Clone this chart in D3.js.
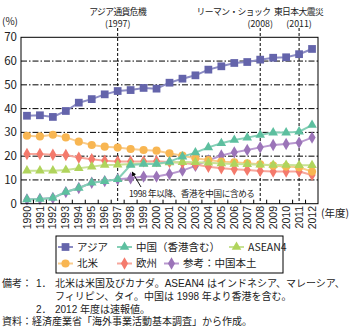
<!DOCTYPE html>
<html>
<head>
<meta charset="utf-8">
<script src="https://cdn.jsdelivr.net/npm/d3@7"></script>
<style>
  html, body { margin: 0; padding: 0; background: #fff; }
  svg { display: block; font-family: "Noto Sans CJK JP", "Noto Sans", sans-serif; }
  .tight { font-family: "Liberation Sans", "Noto Sans CJK JP", sans-serif; }
</style>
</head>
<body>
<svg id="chart" width="356" height="333"></svg>
<script>
// 年度
const years = d3.range(1990, 2013);
// 海外現地法人数に占める地域別の構成比（%）
const asia     = [37, 37.2, 36.5, 39, 42.5, 44, 46, 47.4, 47.8, 48.7, 48.4, 50.9, 52.6, 54, 56.4, 57.8, 59.2, 59.6, 60.6, 61.4, 61.6, 62.9, 65.1];
const chinaHK  = [1.8, 2.0, 2.4, 4.9, 6.6, 8.8, 9.5, 10.3, 16.3, 16.7, 16.7, 17.7, 19.8, 21.5, 23.7, 25.4, 26.8, 27.8, 28.9, 29.9, 29.9, 30.3, 33.1];
const asean4   = [13.9, 13.9, 13.9, 14.2, 14.9, 15.6, 16.3, 16.4, 16.7, 16.9, 16.8, 17.3, 17.5, 17.4, 17.2, 16.9, 16.7, 16.6, 16.4, 16.3, 16.3, 16.2, 16.2];
const northAm  = [28.6, 28.3, 29, 27.9, 26.1, 24.7, 24, 23.6, 23, 22.6, 22.3, 21.2, 20.2, 19.1, 18.4, 17.7, 17.4, 17, 16.6, 16, 15.6, 15.3, 13.5];
const europe   = [20.9, 20.9, 20.6, 20.5, 19.4, 18.7, 18.1, 17.8, 17.8, 17.8, 17.9, 17.5, 17.2, 16.5, 15.5, 14.9, 14.5, 14.2, 13.8, 13.5, 13.5, 13.5, 12.1];
const mainland = [1.8, 2.0, 2.4, 4.9, 6.6, 8.8, 9.5, 10.3, 10.7, 11.4, 11.4, 12.5, 13.9, 15.9, 18.2, 20.3, 21.6, 22.6, 23.7, 24.7, 25.1, 25.7, 27.8];

const yTicks = [0, 10, 20, 30, 40, 50, 60, 70];

// 出来事（年と見出し）
const eventYears  = [1997, 2008, 2011];
const eventLabels = ["アジア通貨危機", "リーマン・ショック", "東日本大震災"];

const seriesNames = ["アジア", "中国（香港含む）", "ASEAN4", "北米", "欧州", "参考：中国本土"];

const notes = [
  "北米は米国及びカナダ。ASEAN4 はインドネシア、マレーシア、",
  "フィリピン、タイ。中国は 1998 年より香港を含む。",
  "2012 年度は速報値。"
];
const source = "資料：経済産業省「海外事業活動基本調査」から作成。";

const series = [
  { name: seriesNames[5], values: mainland, color: "#9b74b8", line: "#b898cf", sym: d3.symbolDiamond, size: 44 },
  { name: seriesNames[4], values: europe,   color: "#f47a6c", line: "#f7a79c", sym: d3.symbolDiamond, size: 44 },
  { name: seriesNames[3], values: northAm,  color: "#f8b652", line: "#f9cc8c", sym: d3.symbolCircle,  size: 52 },
  { name: seriesNames[2], values: asean4,   color: "#b0d45c", line: "#c8e294", sym: d3.symbolTriangle, size: 40 },
  { name: seriesNames[1], values: chinaHK,  color: "#5dbf9f", line: "#86d0b7", sym: d3.symbolTriangle, size: 40 },
  { name: seriesNames[0], values: asia,     color: "#6464ab", line: "#8c8cc4", sym: d3.symbolSquare,   size: 60 }
];

const svg = d3.select("#chart");
const plot = { left: 21, right: 318, top: 37.3, bottom: 203.7 };

const x = d3.scalePoint().domain(years).range([plot.left, plot.right]).padding(0.46);
const y = d3.scaleLinear().domain([0, 70]).range([plot.bottom, plot.top]);
const step = x.step();

// 横の補助線（一点鎖線）
svg.append("g").selectAll("line")
  .data(yTicks.filter(t => t > 0 && t < 70))
  .join("line")
  .attr("x1", plot.left).attr("x2", plot.right)
  .attr("y1", d => y(d)).attr("y2", d => y(d))
  .attr("stroke", "#000").attr("stroke-width", 1)
  .attr("stroke-dasharray", "6,2,1.5,2");

// 出来事の縦線と見出し
const labelCenters = { 1997: x(1997), 2008: 233.5, 2011: 298.5 };
const ev = svg.append("g");
eventYears.forEach((yr, i) => {
  const ex = x(yr);
  ev.append("line")
    .attr("x1", ex).attr("x2", ex)
    .attr("y1", 28).attr("y2", plot.bottom)
    .attr("stroke", "#000").attr("stroke-width", 1)
    .attr("stroke-dasharray", "3,2");
  ev.append("text").attr("x", labelCenters[yr]).attr("y", 15)
    .attr("text-anchor", "middle").attr("font-size", 8.8)
    .attr("letter-spacing", -0.6).attr("fill", "#222")
    .text(eventLabels[i]);
  ev.append("text").attr("x", ex).attr("y", 27)
    .attr("text-anchor", "middle").attr("font-size", 8.8).attr("fill", "#222")
    .text("(" + yr + ")");
});

// 系列の線とマーカー
series.forEach(s => {
  const pts = years.map((yr, i) => [x(yr), y(s.values[i])]);
  svg.append("path")
    .attr("d", d3.line()(pts))
    .attr("fill", "none")
    .attr("stroke", s.line)
    .attr("stroke-width", 2);
  svg.append("g").selectAll("path")
    .data(pts)
    .join("path")
    .attr("transform", d => `translate(${d[0]},${d[1]})`)
    .attr("d", d3.symbol().type(s.sym).size(s.size))
    .attr("fill", s.color);
});

// 枠
svg.append("rect")
  .attr("x", plot.left).attr("y", plot.top)
  .attr("width", plot.right - plot.left).attr("height", plot.bottom - plot.top)
  .attr("fill", "none").attr("stroke", "#000").attr("stroke-width", 1);

// Y 軸目盛ラベル
svg.append("g").selectAll("text")
  .data(yTicks)
  .join("text")
  .attr("x", 17).attr("y", d => y(d))
  .attr("dy", "0.35em")
  .attr("text-anchor", "end")
  .attr("font-size", 11.5).attr("fill", "#222")
  .text(d => d);
svg.append("text").attr("x", 2).attr("y", 25)
  .attr("font-size", 10).attr("fill", "#222").text("(%)");

// X 軸の小目盛（区切り）
const bounds = years.slice(1).map(yr => x(yr) - step / 2);
svg.append("g").selectAll("line")
  .data(bounds)
  .join("line")
  .attr("x1", d => d).attr("x2", d => d)
  .attr("y1", plot.bottom).attr("y2", plot.bottom - 4)
  .attr("stroke", "#000").attr("stroke-width", 1);

// X 軸ラベル（回転）
svg.append("g").selectAll("text")
  .data(years)
  .join("text")
  .attr("class", "tight")
  .attr("transform", d => `translate(${x(d) + 3.6},206) rotate(-90)`)
  .attr("text-anchor", "end")
  .attr("font-size", 10.5).attr("fill", "#222")
  .text(d => d);
svg.append("text").attr("x", 321).attr("y", 217)
  .attr("font-size", 10.5).attr("fill", "#222").text("(年度)");

// 注記と矢印
svg.append("defs").append("marker")
  .attr("id", "arrowhead").attr("viewBox", "0 0 10 10")
  .attr("refX", 9).attr("refY", 5)
  .attr("markerWidth", 5).attr("markerHeight", 5)
  .attr("orient", "auto")
  .append("path").attr("d", "M0,0L10,5L0,10z").attr("fill", "#000");
svg.append("line")
  .attr("x1", 141).attr("y1", 187)
  .attr("x2", x(1998) + 1.5).attr("y2", y(chinaHK[8]) + 7)
  .attr("stroke", "#000").attr("stroke-width", 0.9)
  .attr("marker-end", "url(#arrowhead)");
svg.append("text").attr("x", 129).attr("y", 197)
  .attr("font-size", 8.6).attr("letter-spacing", -0.4).attr("fill", "#222")
  .text("1998 年以降、香港を中国に含める");

// 凡例
const lg = svg.append("g");
lg.append("rect").attr("x", 56).attr("y", 236).attr("width", 227).attr("height", 37)
  .attr("fill", "#fff").attr("stroke", "#000").attr("stroke-width", 1);
const legendPos = [
  { i: 5, x: 58, y: 247 }, { i: 4, x: 117, y: 247 }, { i: 3, x: 229, y: 247 },
  { i: 2, x: 58, y: 263.5 }, { i: 1, x: 117, y: 263.5 }, { i: 0, x: 164, y: 263.5 }
];
legendPos.forEach(p => {
  const s = series[p.i];
  lg.append("line").attr("x1", p.x).attr("x2", p.x + 15)
    .attr("y1", p.y).attr("y2", p.y)
    .attr("stroke", s.line).attr("stroke-width", 2);
  lg.append("path").attr("transform", `translate(${p.x + 7.5},${p.y})`)
    .attr("d", d3.symbol().type(s.sym).size(s.size)).attr("fill", s.color);
  lg.append("text").attr("x", p.x + 19).attr("y", p.y).attr("dy", "0.36em")
    .attr("font-size", 10.5).attr("fill", "#222").text(s.name);
});

// 備考・資料
const nt = svg.append("g").attr("class", "tight").attr("font-size", 10).attr("fill", "#222");
nt.append("text").attr("x", 2).attr("y", 287).text("備考：");
nt.append("text").attr("x", 36).attr("y", 287).text("1．");
nt.append("text").attr("x", 55).attr("y", 287).text(notes[0]);
nt.append("text").attr("x", 55).attr("y", 299.5).text(notes[1]);
nt.append("text").attr("x", 36).attr("y", 312.5).text("2．");
nt.append("text").attr("x", 55).attr("y", 312.5).text(notes[2]);
nt.append("text").attr("x", 2).attr("y", 325).text(source);
</script>
</body>
</html>
